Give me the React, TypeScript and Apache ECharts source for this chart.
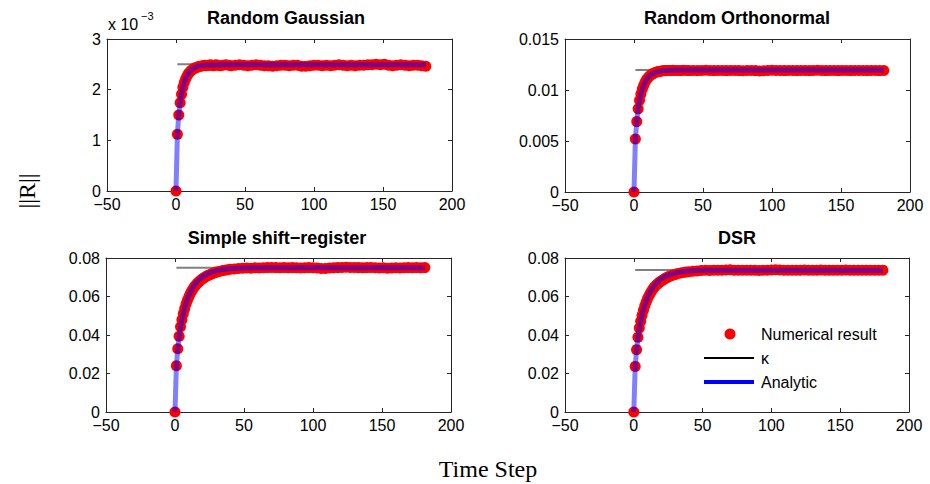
import React, { useEffect, useRef } from "react";
import * as echarts from "echarts";

// ---- data -------------------------------------------------------------
const STEPS = [
  0, 1, 2, 3, 4, 5, 6, 7, 8, 9, 10,
  11, 12, 13, 14, 15, 16, 17, 18, 19, 20,
  21, 22, 23, 24, 25, 26, 27, 28, 29, 30,
  32, 34, 36, 38, 40,
  43, 46, 49, 52, 55, 58, 61, 64, 67, 70,
  73, 76, 79, 82, 85, 88, 91, 94, 97, 100,
  103, 106, 109, 112, 115, 118, 121, 124, 127, 130,
  133, 136, 139, 142, 145, 148, 151, 154, 157, 160,
  163, 166, 169, 172, 175, 178, 181,
];

const ANALYTIC_STEPS = [
  0, 1, 2, 3, 4, 5, 6, 7, 8, 9, 10,
  11, 12, 13, 14, 15, 16, 17, 18, 19, 20,
  21, 22, 23, 24, 25, 26, 27, 28, 29, 30,
  32, 34, 36, 38, 40,
  45, 50, 60, 80, 181,
];

const KAPPA_SPAN = [1, 180];

// Random Gaussian (values in units of 10^-3)
const GAUSSIAN_NUMERICAL = [
  0, 1.12, 1.5, 1.74, 1.91, 2.05, 2.14, 2.21, 2.27, 2.32, 2.35,
  2.38, 2.4, 2.42, 2.43, 2.44, 2.45, 2.46, 2.46, 2.47, 2.47,
  2.48, 2.47, 2.48, 2.48, 2.49, 2.48, 2.47, 2.48, 2.49, 2.48,
  2.47, 2.48, 2.49, 2.48, 2.47,
  2.48, 2.49, 2.48, 2.47, 2.48, 2.49, 2.48, 2.47, 2.47, 2.46,
  2.47, 2.48, 2.48, 2.47, 2.48, 2.48, 2.46, 2.46, 2.47, 2.48,
  2.48, 2.47, 2.48, 2.47, 2.48, 2.49, 2.48, 2.47, 2.48, 2.47,
  2.48, 2.48, 2.49, 2.49, 2.5, 2.49, 2.5, 2.48, 2.47, 2.48,
  2.49, 2.48, 2.47, 2.48, 2.48, 2.47, 2.46,
];
const GAUSSIAN_ANALYTIC = [
  0, 1.118, 1.5, 1.746, 1.92, 2.05, 2.148, 2.222, 2.281, 2.326, 2.362,
  2.39, 2.413, 2.43, 2.444, 2.456, 2.465, 2.47, 2.475, 2.478, 2.481,
  2.483, 2.485, 2.486, 2.487, 2.488, 2.488, 2.489, 2.489, 2.489, 2.49,
  2.49, 2.49, 2.49, 2.49, 2.49,
  2.49, 2.49, 2.49, 2.49, 2.49,
];
const GAUSSIAN_KAPPA = 2.5;

// Random Orthonormal
const ORTHONORMAL_NUMERICAL = [
  0, 0.0052, 0.0069, 0.00815, 0.009, 0.0096, 0.0101, 0.01045, 0.01075, 0.011, 0.01118,
  0.01133, 0.01145, 0.01155, 0.01163, 0.0117, 0.01175, 0.01179, 0.01182, 0.01185, 0.01187,
  0.01188, 0.0119, 0.01189, 0.01191, 0.01192, 0.0119, 0.01191, 0.01193, 0.01192, 0.01191,
  0.01192, 0.0119, 0.01193, 0.01191, 0.0119,
  0.01192, 0.0119, 0.01191, 0.01193, 0.01191, 0.0119, 0.01192, 0.01191, 0.0119, 0.01191,
  0.01192, 0.0119, 0.01188, 0.01191, 0.01192, 0.0119, 0.01187, 0.01189, 0.01191, 0.01194,
  0.01192, 0.01191, 0.0119, 0.01192, 0.01191, 0.0119, 0.01192, 0.01191, 0.0119, 0.01192,
  0.01194, 0.01192, 0.0119, 0.01191, 0.01192, 0.0119, 0.01191, 0.01192, 0.0119, 0.01191,
  0.01192, 0.01191, 0.0119, 0.01192, 0.01191, 0.0119, 0.01192,
];
const ORTHONORMAL_ANALYTIC = [
  0, 0.00516, 0.00695, 0.00813, 0.00897, 0.0096, 0.01009, 0.01047, 0.01077, 0.01101, 0.0112,
  0.01135, 0.01147, 0.01157, 0.01165, 0.01172, 0.01176, 0.0118, 0.01183, 0.01186, 0.01188,
  0.01189, 0.0119, 0.01191, 0.01192, 0.01193, 0.01193, 0.01194, 0.01194, 0.01194, 0.01195,
  0.01195, 0.01195, 0.01195, 0.01195, 0.01195,
  0.01195, 0.01195, 0.01195, 0.01195, 0.01195,
];
const ORTHONORMAL_KAPPA = 0.01196;

// Simple shift-register
const SHIFT_NUMERICAL = [
  0, 0.024, 0.0328, 0.0394, 0.0443, 0.0479, 0.051, 0.0537, 0.0561, 0.0581, 0.0598,
  0.0614, 0.0627, 0.0639, 0.065, 0.0659, 0.0667, 0.0674, 0.0681, 0.0687, 0.0692,
  0.0697, 0.0701, 0.0706, 0.0709, 0.0713, 0.0716, 0.0719, 0.0722, 0.0724, 0.0727,
  0.073, 0.0734, 0.0737, 0.0739, 0.0741,
  0.0743, 0.0745, 0.0747, 0.0748, 0.0747, 0.0749, 0.0748, 0.0749, 0.075, 0.0751,
  0.075, 0.0749, 0.075, 0.0749, 0.075, 0.0749, 0.0748, 0.0749, 0.075, 0.0749,
  0.0748, 0.0746, 0.0746, 0.0748, 0.0749, 0.075, 0.0751, 0.0752, 0.0751, 0.0751,
  0.075, 0.0749, 0.075, 0.0751, 0.0749, 0.0748, 0.0749, 0.0747, 0.0748, 0.0749,
  0.0748, 0.0749, 0.075, 0.0749, 0.075, 0.0749, 0.075,
];
const SHIFT_ANALYTIC = [
  0, 0.0237, 0.0327, 0.039, 0.044, 0.048, 0.0513, 0.0542, 0.0566, 0.0587, 0.0605,
  0.0621, 0.0635, 0.0648, 0.0659, 0.0668, 0.0677, 0.0685, 0.0691, 0.0698, 0.0703,
  0.0708, 0.0712, 0.0716, 0.0719, 0.0723, 0.0725, 0.0728, 0.073, 0.0732, 0.0734,
  0.0737, 0.074, 0.0742, 0.0743, 0.0744,
  0.0747, 0.0748, 0.0749, 0.0749, 0.0749,
];
const SHIFT_KAPPA = 0.075;

// DSR
const DSR_NUMERICAL = [
  0, 0.0237, 0.0324, 0.0388, 0.0436, 0.0472, 0.0503, 0.0529, 0.0552, 0.0572, 0.0589,
  0.0604, 0.0617, 0.0629, 0.064, 0.0649, 0.0657, 0.0664, 0.067, 0.0676, 0.0681,
  0.0686, 0.069, 0.0695, 0.0698, 0.0702, 0.0705, 0.0708, 0.071, 0.0713, 0.0715,
  0.0719, 0.0722, 0.0725, 0.0727, 0.0729,
  0.0731, 0.0733, 0.0735, 0.0736, 0.0735, 0.0737, 0.0736, 0.0737, 0.0738, 0.0739,
  0.0737, 0.0736, 0.0737, 0.0736, 0.0737, 0.0736, 0.0735, 0.0736, 0.0737, 0.0738,
  0.0739, 0.0738, 0.0737, 0.0736, 0.0737, 0.0736, 0.0737, 0.0738, 0.0737, 0.0736,
  0.0737, 0.0738, 0.0737, 0.0736, 0.0737, 0.0736, 0.0737, 0.0738, 0.0737, 0.0736,
  0.0737, 0.0736, 0.0737, 0.0736, 0.0737, 0.0736, 0.0737,
];
const DSR_ANALYTIC = [
  0, 0.0233, 0.0322, 0.0384, 0.0433, 0.0472, 0.0505, 0.0533, 0.0557, 0.0578, 0.0595,
  0.0611, 0.0625, 0.0638, 0.0648, 0.0657, 0.0666, 0.0674, 0.068, 0.0687, 0.0692,
  0.0697, 0.0701, 0.0705, 0.0708, 0.0711, 0.0713, 0.0716, 0.0718, 0.072, 0.0722,
  0.0725, 0.0728, 0.073, 0.0731, 0.0732,
  0.0735, 0.0736, 0.0737, 0.0737, 0.0737,
];
const DSR_KAPPA = 0.0738;

const TITLES = ["Random Gaussian", "Random Orthonormal", "Simple shift\u2212register", "DSR"];
const X_TICKS = { min: -50, max: 200, interval: 50 };
const Y_TICKS = [
  { min: 0, max: 3, interval: 1 },
  { min: 0, max: 0.015, interval: 0.005 },
  { min: 0, max: 0.08, interval: 0.02 },
  { min: 0, max: 0.08, interval: 0.02 },
];
const NUMERICAL = [GAUSSIAN_NUMERICAL, ORTHONORMAL_NUMERICAL, SHIFT_NUMERICAL, DSR_NUMERICAL];
const ANALYTIC = [GAUSSIAN_ANALYTIC, ORTHONORMAL_ANALYTIC, SHIFT_ANALYTIC, DSR_ANALYTIC];
const KAPPA = [GAUSSIAN_KAPPA, ORTHONORMAL_KAPPA, SHIFT_KAPPA, DSR_KAPPA];
const LEGEND_LABELS = ["Numerical result", "\u03ba", "Analytic"];
const EXPONENT_LABEL = ["x 10", "\u22123"];
const X_LABEL = "Time Step";
const Y_LABEL = "||R||";

// ---- layout -----------------------------------------------------------
const GRIDS = [
  { left: 107, top: 39, width: 345, height: 152 },
  { left: 565, top: 39, width: 345, height: 153 },
  { left: 106, top: 258, width: 345, height: 154 },
  { left: 565, top: 258, width: 344, height: 154 },
];
const TITLE_POS = [
  { x: 286, y: 9 },
  { x: 737, y: 9 },
  { x: 277, y: 229 },
  { x: 737, y: 229 },
];

const SANS = "'Liberation Sans', Arial, Helvetica, sans-serif";
const SERIF = "'Liberation Serif', 'Times New Roman', serif";
const AXIS_COLOR = "#262626";

const fmt = (v: number) => String(v).replace("-", "\u2212");

export default function App() {
  const ref = useRef<HTMLDivElement>(null);

  useEffect(() => {
    if (!ref.current) return;
    const chart = echarts.init(ref.current, undefined, { renderer: "svg" });

    const xAxis: any[] = [];
    const yAxis: any[] = [];
    const series: any[] = [];

    GRIDS.forEach((_, i) => {
      const baseAxis = {
        gridIndex: i,
        type: "value",
        splitLine: { show: false },
        axisLine: { show: true, onZero: false, lineStyle: { color: AXIS_COLOR, width: 1 } },
        axisTick: { show: true, inside: true, length: 4, lineStyle: { color: AXIS_COLOR } },
      };
      xAxis.push({
        ...baseAxis,
        position: "bottom",
        ...X_TICKS,
        axisLabel: {
          show: true, margin: 7, fontSize: 16, lineHeight: 12, color: "#000", fontFamily: SANS,
          formatter: fmt, showMinLabel: true, showMaxLabel: true,
        },
      });
      xAxis.push({
        ...baseAxis,
        position: "top",
        ...X_TICKS,
        axisLabel: { show: false },
      });
      yAxis.push({
        ...baseAxis,
        position: "left",
        ...Y_TICKS[i],
        axisLabel: {
          show: true, margin: 6, fontSize: 16, lineHeight: 12, color: "#000", fontFamily: SANS,
          formatter: fmt, showMinLabel: true, showMaxLabel: true,
        },
      });
      yAxis.push({
        ...baseAxis,
        position: "right",
        ...Y_TICKS[i],
        axisLabel: { show: false },
      });

      series.push({
        name: LEGEND_LABELS[1],
        type: "line",
        xAxisIndex: 2 * i,
        yAxisIndex: 2 * i,
        data: KAPPA_SPAN.map((x) => [x, KAPPA[i]]),
        symbol: "none",
        silent: true,
        lineStyle: { color: "#808080", width: 2 },
        z: 2,
      });
      series.push({
        name: LEGEND_LABELS[0],
        type: "scatter",
        xAxisIndex: 2 * i,
        yAxisIndex: 2 * i,
        data: STEPS.map((x, j) => [x, NUMERICAL[i][j]]),
        symbol: "circle",
        symbolSize: 11,
        silent: true,
        itemStyle: { color: "#ff0000", opacity: 1 },
        z: 3,
      });
      series.push({
        name: LEGEND_LABELS[2],
        type: "line",
        xAxisIndex: 2 * i,
        yAxisIndex: 2 * i,
        data: ANALYTIC_STEPS.map((x, j) => [x, ANALYTIC[i][j]]),
        symbol: "none",
        silent: true,
        lineStyle: { color: "#0000ff", width: 5, opacity: 0.5 },
        z: 4,
      });
    });

    const title = TITLES.map((t, i) => ({
      text: t,
      left: TITLE_POS[i].x,
      top: TITLE_POS[i].y,
      textAlign: "center",
      padding: 0,
      textStyle: { fontSize: 18, fontWeight: "bold", color: "#000", fontFamily: SANS },
    }));

    const graphic: any[] = [
      // exponent label of the first panel
      { type: "text", left: 108, top: 16, style: { text: EXPONENT_LABEL[0], font: `16px ${SANS}`, fill: "#000" } },
      { type: "text", left: 141, top: 10, style: { text: EXPONENT_LABEL[1], font: `11px ${SANS}`, fill: "#000" } },
      // axis titles
      {
        type: "text",
        x: 488,
        y: 469,
        style: { text: X_LABEL, font: `24px ${SERIF}`, fill: "#000", align: "center", verticalAlign: "middle" },
      },
      {
        type: "text",
        x: 27,
        y: 191,
        rotation: Math.PI / 2,
        style: { text: Y_LABEL, font: `24px ${SERIF}`, fill: "#000", align: "center", verticalAlign: "middle" },
      },
      // legend
      { type: "circle", shape: { cx: 730, cy: 334, r: 5.5 }, style: { fill: "#ff0000" } },
      { type: "text", x: 761, y: 334, style: { text: LEGEND_LABELS[0], font: `16px ${SANS}`, fill: "#000", verticalAlign: "middle" } },
      { type: "line", shape: { x1: 704, y1: 358, x2: 754, y2: 358 }, style: { stroke: "#000", lineWidth: 2 } },
      { type: "text", x: 761, y: 358, style: { text: LEGEND_LABELS[1], font: `16px ${SANS}`, fill: "#000", verticalAlign: "middle" } },
      { type: "line", shape: { x1: 704, y1: 382, x2: 754, y2: 382 }, style: { stroke: "#0000ff", lineWidth: 4 } },
      { type: "text", x: 761, y: 382, style: { text: LEGEND_LABELS[2], font: `16px ${SANS}`, fill: "#000", verticalAlign: "middle" } },
    ];

    chart.setOption({
      animation: false,
      backgroundColor: "#ffffff",
      title,
      grid: GRIDS.map((g) => ({ ...g, containLabel: false })),
      xAxis,
      yAxis,
      series,
      graphic,
    });

    return () => chart.dispose();
  }, []);

  return (
    <div
      ref={ref}
      style={{ position: "absolute", left: 0, top: 0, width: 930, height: 484, background: "#fff" }}
    />
  );
}
